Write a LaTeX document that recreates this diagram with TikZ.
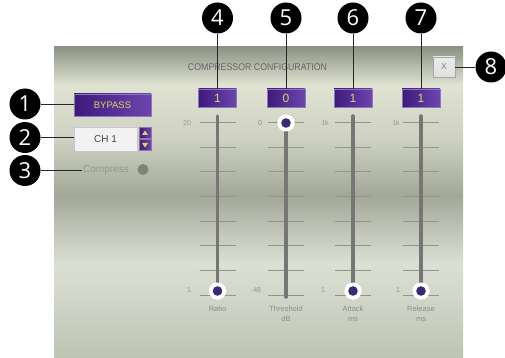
\documentclass[tikz,border=0pt]{standalone}
\usepackage{fontspec}
\setmainfont{Liberation Sans}
\newfontfamily\callfont{Open Sans}
\usetikzlibrary{calc}
\definecolor{pa}{HTML}{8C9384}
\definecolor{pb}{HTML}{E0E3D2}
\definecolor{pc}{HTML}{CDD1C2}
\definecolor{pd}{HTML}{A2A798}
\definecolor{pe}{HTML}{DBE0D4}
\definecolor{pf}{HTML}{BEC4B3}
\definecolor{purpd}{HTML}{3D1A7A}
\definecolor{purpl}{HTML}{6E45B0}
\definecolor{purpedge}{HTML}{8C78B8}
\definecolor{ytxt}{HTML}{E3D25C}
\definecolor{tickc}{HTML}{92968A}
\definecolor{trackc}{HTML}{767774}
\definecolor{lblc}{HTML}{8A8D86}
\definecolor{knobp}{HTML}{3C2878}
\tikzset{
  callout/.style={circle, fill=black, minimum size=31pt, inner sep=0pt, text=white,
    font=\callfont\fontsize{22}{22}\selectfont},
  conn/.style={draw=black!85, line width=0.9pt},
  pbox/.style={draw=purpedge, line width=0.6pt, left color=purpd, right color=purpl,
    minimum width=38pt, minimum height=18pt, inner sep=0pt, text=ytxt,
    font=\fontsize{12}{12}\selectfont},
  tickline/.style={draw=tickc, line width=0.9pt},
  trackline/.style={draw=trackc, line width=3.5pt, line cap=round},
  knob/.style={circle, fill=white, minimum size=17pt, inner sep=0pt},
  scalelbl/.style={text=tickc, font=\fontsize{7}{7}\selectfont, inner sep=0pt},
  namelbl/.style={text=lblc, font=\fontsize{7.5}{10}\selectfont, align=center, inner sep=0pt, anchor=north},
}
\begin{document}
\begin{tikzpicture}[x=1pt,y=-1pt]
\useasboundingbox (0,0) rectangle (505,358);
% panel background
\shade[top color=pa, bottom color=pb] (54,47) rectangle (463,85.5);
\shade[top color=pb, bottom color=pc] (54,85) rectangle (463,140.5);
\shade[top color=pc, bottom color=pd] (54,140) rectangle (463,195.5);
\shade[top color=pd, bottom color=pe] (54,195) rectangle (463,263.5);
\shade[top color=pe, bottom color=pf] (54,263) rectangle (463,358);
% title
\node[text=black!60, inner sep=0pt] (title) at (257.5,67) {\resizebox{139pt}{6.8pt}{COMPRESSOR CONFIGURATION}};
% left controls
\node[pbox, minimum width=77pt, minimum height=22pt, font=\fontsize{9.5}{9.5}\selectfont] (bypass) at (112.5,105) {BYPASS};
\node[draw=black!22, fill=black!5, minimum width=63pt, minimum height=24pt, inner sep=0pt,
  text=black!72, font=\fontsize{10}{10}\selectfont] (ch) at (105.5,139) {CH 1};
\node[draw=purpedge, line width=0.5pt, left color=purpd, right color=purpl, minimum width=12pt, minimum height=11pt, inner sep=0pt] (up) at (145,133) {};
\node[draw=purpedge, line width=0.5pt, left color=purpd, right color=purpl, minimum width=12pt, minimum height=11pt, inner sep=0pt] (down) at (145,145) {};
\fill[ytxt] ($(up.center)+(-3,2)$) -- ($(up.center)+(3,2)$) -- ($(up.center)+(0,-2.5)$) -- cycle;
\fill[ytxt] ($(down.center)+(-3,-2)$) -- ($(down.center)+(3,-2)$) -- ($(down.center)+(0,2.5)$) -- cycle;
\node[text=black!28!pc, font=\fontsize{10}{10}\selectfont, inner sep=1pt, anchor=west] (compress) at (82,170) {Compress};
\node[circle, fill=black!38!pc, minimum size=11pt, inner sep=0pt] (cdot) at (143,169.5) {};
% close button
\node[draw=black!35, top color=white!92!black, bottom color=black!12, minimum width=22pt, minimum height=20pt,
  inner sep=0pt, text=black!50, font=\fontsize{8.5}{8.5}\selectfont] (xbtn) at (444,67) {X};
% value boxes
\node[pbox] (v1) at (217.5,98) {1};
\node[pbox] (v2) at (286,98) {0};
\node[pbox] (v3) at (353,98) {1};
\node[pbox] (v4) at (421,98) {1};
% ticks
\foreach \x in {217.5,286,353,421}{
  \foreach \y in {122.5,147.2,171.9,196.5,221.2,245.9,270.5,295.2}{
    \draw[tickline] (\x-18,\y) -- (\x+18,\y);
  }
}
% knobs
\node[knob] (k1) at (217.5,291) {};
\node[knob] (k2) at (286,123) {};
\node[knob] (k3) at (353,291) {};
\node[knob] (k4) at (421,291) {};
% tracks
\coordinate (t1) at (217.5,116);
\coordinate (t2) at (286,297);
\coordinate (t3) at (353,116);
\coordinate (t4) at (421,116);
\draw[trackline] (t1) -- (k1.center);
\draw[trackline] (t2) -- (k2.center);
\draw[trackline] (t3) -- (k3.center);
\draw[trackline] (t4) -- (k4.center);
\foreach \k in {k1,k2,k3,k4}{
  \node[knob] at (\k) {};
  \fill[knobp] (\k) circle (4.8);
}
% scale labels
\node[scalelbl] (s1a) at (187,123) {20};
\node[scalelbl] (s2a) at (260,123) {0};
\node[scalelbl] (s3a) at (325,123) {1k};
\node[scalelbl] (s4a) at (396,123) {1k};
\node[scalelbl] (s1b) at (189,290) {1};
\node[scalelbl] (s2b) at (256,290) {-48};
\node[scalelbl] (s3b) at (323,290) {1};
\node[scalelbl] (s4b) at (398,290) {1};
% names
\node[namelbl] (n1) at (217.5,306) {Ratio};
\node[namelbl] (n2) at (286,306) {Threshold\\dB};
\node[namelbl] (n3) at (353,306) {Attack\\ms};
\node[namelbl] (n4) at (421,306) {Release\\ms};
% callouts
\node[callout] (c1) at (25,104) {1};
\node[callout] (c2) at (25,137.5) {2};
\node[callout] (c3) at (25,170.5) {3};
\node[callout] (c4) at (217.5,18) {4};
\node[callout] (c5) at (286,18) {5};
\node[callout] (c6) at (353,18) {6};
\node[callout] (c7) at (421,18) {7};
\node[callout] (c8) at (491,67) {8};
\draw[conn] (c1.east) -- (c1.east -| bypass.west);
\draw[conn] (c2.east) -- (c2.east -| ch.west);
\draw[conn] (c3.east) -- (c3.east -| compress.west);
\draw[conn] (c4.south) -- (v1.north);
\draw[conn] (c5.south) -- (v2.north);
\draw[conn] (c6.south) -- (v3.north);
\draw[conn] (c7.south) -- (v4.north);
\draw[conn] (c8.west) -- (xbtn.east);
\end{tikzpicture}
\end{document}
